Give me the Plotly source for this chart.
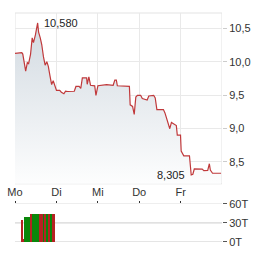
import plotly.graph_objects as go

# ---- data (time in trading days from Monday start, price in EUR) ----
day_labels = ["Mo", "Di", "Mi", "Do", "Fr"]
price_t = [0, 0.141, 0.164, 0.188, 0.258, 0.298, 0.329, 0.376, 0.415, 0.446, 0.493, 0.547,
           0.570, 0.610, 0.646, 0.688, 0.728, 0.768, 0.805, 0.845, 0.885, 0.923, 0.962,
           1.002, 1.080, 1.120, 1.181, 1.221, 1.275, 1.432, 1.472, 1.549, 1.589, 1.627,
           1.730, 1.744, 1.784, 1.824, 1.925, 1.955, 2.002, 2.096, 2.214, 2.371, 2.411,
           2.448, 2.472, 2.763, 2.782, 2.840, 2.880, 2.918, 2.958, 3.035, 3.075, 3.192,
           3.232, 3.350, 3.387, 3.427, 3.585, 3.622, 3.662, 3.739, 3.779, 3.843, 3.897,
           3.920, 3.998, 4.014, 4.077, 4.214, 4.256, 4.296, 4.331, 4.523, 4.561, 4.655,
           4.695, 4.718, 4.772, 4.977]
price_v = [10.124, 10.128, 10.136, 10.114, 9.857, 9.986, 9.971, 10.114, 10.357, 10.286, 10.40, 10.58,
           10.443, 10.357, 10.257, 10.071, 9.947, 10.0, 9.929, 9.786, 9.657, 9.714, 9.657,
           9.571, 9.571, 9.543, 9.519, 9.557, 9.553, 9.557, 9.629, 9.629, 9.60, 9.757,
           9.757, 9.661, 9.771, 9.647, 9.639, 9.496, 9.639, 9.647, 9.657, 9.647, 9.724,
           9.724, 9.639, 9.629, 9.353, 9.329, 9.21, 9.471, 9.496, 9.496, 9.447, 9.425,
           9.486, 9.496, 9.457, 9.282, 9.282, 9.233, 9.139, 8.996, 9.09, 9.067, 9.043,
           8.90, 8.90, 8.661, 8.59, 8.59, 8.305, 8.314, 8.393, 8.39, 8.367, 8.371,
           8.471, 8.376, 8.329, 8.329]

vol_start = [0.157, 0.181, 0.211, 0.352, 0.376, 0.399, 0.570, 0.688, 0.711, 0.758, 0.805, 0.852, 0.899]
vol_end = [0.181, 0.211, 0.352, 0.376, 0.399, 0.570, 0.688, 0.711, 0.758, 0.805, 0.852, 0.899, 0.969]
vol_value = [34.5, 4.5, 39.5, 3, 45, 45, 45, 45, 45, 45, 45, 45, 45]   # thousands
vol_up = [False, False, True, True, False, True, False, True, False, True, False, True, False]

price_ticks = [8.5, 9.0, 9.5, 10.0, 10.5]
vol_ticks = [0, 30, 60]
vol_tick_labels = ["0T", "30T", "60T"]

# ---- styles ----
FONT = "Liberation Sans, Arial, sans-serif"
TXT = "#333333"
GRID = "#e9e9e9"
RED = "#b52222"
GREEN = "#0a870a"
LINE = "#c0393b"

fig = go.Figure()

fig.add_trace(go.Scatter(
    x=price_t, y=price_v, mode="lines",
    line=dict(color=LINE, width=1.2),
    fill="tozeroy",
    fillgradient=dict(type="vertical", start=8.17, stop=10.6,
                      colorscale=[[0, "rgba(255,255,255,1)"], [1, "#d2dae1"]]),
    xaxis="x", yaxis="y", hoverinfo="skip", showlegend=False))

centers = [(a + b) / 2 for a, b in zip(vol_start, vol_end)]
widths = [b - a for a, b in zip(vol_start, vol_end)]
fig.add_trace(go.Bar(
    x=centers, y=vol_value, width=widths,
    marker=dict(color=[GREEN if u else RED for u in vol_up], line=dict(width=0)),
    xaxis="x2", yaxis="y2", hoverinfo="skip", showlegend=False))

pmax = max(price_v)
pmin = min(price_v)
imax = price_v.index(pmax)
imin = price_v.index(pmin)
fmt = lambda v: f"{v:.3f}".replace(".", ",")
fig.add_annotation(x=price_t[imax], y=pmax, xref="x", yref="y", text=fmt(pmax),
                   showarrow=False, xanchor="left", yanchor="middle", xshift=4,
                   font=dict(family=FONT, size=11, color="#222"))
fig.add_annotation(x=price_t[imin], y=pmin, xref="x", yref="y", text=fmt(pmin),
                   showarrow=False, xanchor="right", yanchor="middle", xshift=-4,
                   font=dict(family=FONT, size=11, color="#222"))

# plot border
fig.add_shape(type="rect", xref="x", yref="y domain", x0=0, x1=5, y0=0, y1=1,
              line=dict(color="#e3e3e3", width=1), layer="below")
# volume grid lines
for v in [0, 30]:
    fig.add_shape(type="line", xref="x2", yref="y2", x0=0, x1=5, y0=v, y1=v,
                  line=dict(color="#cccccc", width=1), layer="below")

fig.update_layout(
    width=264, height=255,
    margin=dict(l=9, r=42, t=7, b=8),
    paper_bgcolor="white", plot_bgcolor="white",
    separators=",.",
    font=dict(family=FONT, size=11, color=TXT),
    xaxis=dict(domain=[0, 1], range=[0, 5], anchor="y",
               tickvals=[0, 1, 2, 3, 4], ticktext=day_labels,
               showgrid=True, gridcolor=GRID, gridwidth=1, zeroline=False,
               showline=False, ticks="", tickfont=dict(size=11, color=TXT)),
    yaxis=dict(domain=[0.2542, 1], range=[8.171, 10.729], side="right", anchor="x",
               tickvals=price_ticks, tickformat=".1f",
               showgrid=True, gridcolor=GRID, gridwidth=1, zeroline=False,
               ticks="outside", ticklen=4, tickcolor="#cccccc",
               tickfont=dict(size=11, color=TXT)),
    xaxis2=dict(domain=[0, 1], range=[0, 5], anchor="y2", matches="x", side="top",
                tickvals=[0, 1, 2, 3, 4], showticklabels=False,
                ticks="outside", ticklen=2, tickcolor="#333333",
                showgrid=False, zeroline=False, showline=True, linecolor="#eeeeee"),
    yaxis2=dict(domain=[0, 0.1667], range=[0, 60], side="right", anchor="x2",
                tickvals=vol_ticks, ticktext=vol_tick_labels,
                showgrid=False, zeroline=False,
                ticks="outside", ticklen=4, tickcolor="#555555",
                tickfont=dict(size=11, color=TXT)),
    bargap=0,
)

fig.write_html("out.html", config={"displayModeBar": False})
